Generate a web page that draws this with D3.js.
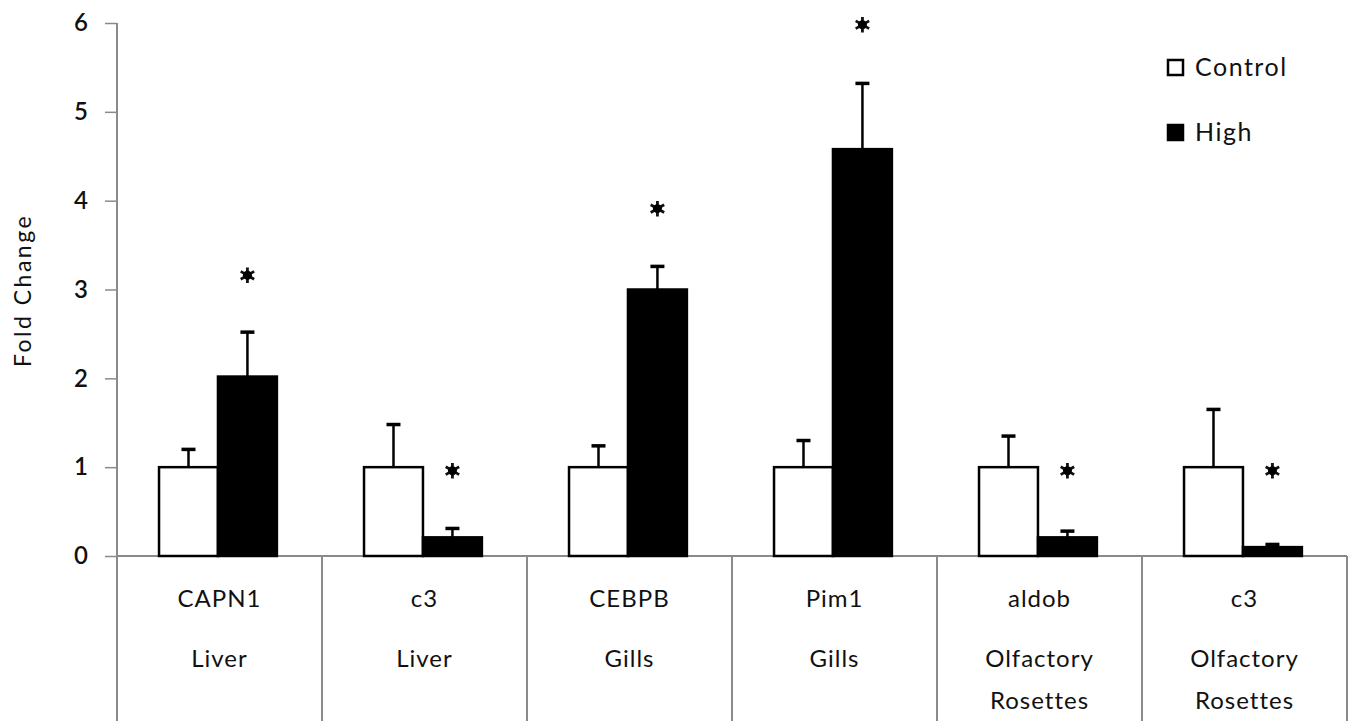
<!DOCTYPE html>
<html>
<head>
<meta charset="utf-8">
<script src="https://cdn.jsdelivr.net/npm/d3@7"></script>
<style>
  body { margin: 0; background: #fff; }
  text { font-family: Lato, "Open Sans", sans-serif; fill: #111; }
</style>
</head>
<body>
<svg id="chart" width="1355" height="721"></svg>
<script>
// Chart data
const genes = ['CAPN1', 'c3', 'CEBPB', 'Pim1', 'aldob', 'c3'];
const tissues = [['Liver'], ['Liver'], ['Gills'], ['Gills'], ['Olfactory', 'Rosettes'], ['Olfactory', 'Rosettes']];
const series = ['Control', 'High'];
const controlMean = [1, 1, 1, 1, 1, 1];
const controlErr = [0.2, 0.48, 0.24, 0.3, 0.35, 0.65];
const highMean = [2.02, 0.21, 3.0, 4.58, 0.21, 0.1];
const highErr = [0.5, 0.1, 0.26, 0.74, 0.07, 0.03];
const starLevel = [3.16, 0.96, 3.91, 5.98, 0.96, 0.96];
const yTicks = [0, 1, 2, 3, 4, 5, 6];

const svg = d3.select('#chart');
const plotLeft = 117, plotRight = 1347, plotTop = 23, plotBase = 556, plotBottom = 721;
const axisColor = '#8a8a8a';

const keys = genes.map((g, i) => i);
const x0 = d3.scaleBand().domain(keys).range([plotLeft, plotRight]);
const bw = x0.bandwidth();
const x1 = d3.scaleBand().domain(series).range([bw * 0.205, bw * 0.78]);
const y = d3.scaleLinear().domain([0, 6]).range([plotBase, plotTop]);

const rows = keys.map(i => ({
    i: i,
    values: [
        { s: 'Control', v: controlMean[i], e: controlErr[i] },
        { s: 'High', v: highMean[i], e: highErr[i] }
    ]
}));

// y axis
const yAxis = d3.axisLeft(y).tickValues(yTicks).tickSize(12).tickPadding(17).tickFormat(d3.format('d'));
const ya = svg.append('g').attr('transform', `translate(${plotLeft},0)`).call(yAxis);
ya.select('.domain').remove();
ya.selectAll('.tick line').attr('stroke', axisColor).attr('stroke-width', 1.5);
ya.selectAll('.tick text')
    .style('font-size', '24px')
    .style('font-weight', 600)
    .attr('fill', '#111');
svg.append('line')
    .attr('x1', plotLeft).attr('x2', plotLeft).attr('y1', plotTop).attr('y2', plotBottom)
    .attr('stroke', axisColor).attr('stroke-width', 2);

// y title
svg.append('text')
    .attr('transform', `translate(31,${(plotTop + plotBase) / 2 + 1}) rotate(-90)`)
    .attr('text-anchor', 'middle')
    .style('font-size', '23px')
    .style('letter-spacing', '2.5px')
    .text('Fold Change');

// x baseline and category separators
svg.append('line')
    .attr('x1', plotLeft).attr('x2', plotRight).attr('y1', plotBase).attr('y2', plotBase)
    .attr('stroke', axisColor).attr('stroke-width', 2);
svg.selectAll('.sep')
    .data(keys.map(i => x0(i) + bw))
    .enter().append('line')
    .attr('class', 'sep')
    .attr('x1', d => d).attr('x2', d => d)
    .attr('y1', plotBase).attr('y2', plotBottom)
    .attr('stroke', axisColor).attr('stroke-width', 2);

// bars
const groups = svg.selectAll('.grp')
    .data(rows)
    .enter().append('g')
    .attr('class', 'grp')
    .attr('transform', d => `translate(${x0(d.i)},0)`);

// error bars (upper only)
groups.selectAll('.err')
    .data(d => d.values)
    .enter().append('line')
    .attr('x1', d => x1(d.s) + x1.bandwidth() / 2)
    .attr('x2', d => x1(d.s) + x1.bandwidth() / 2)
    .attr('y1', d => y(d.v))
    .attr('y2', d => y(d.v + d.e))
    .attr('stroke', '#000').attr('stroke-width', 2.5);
groups.selectAll('.cap')
    .data(d => d.values)
    .enter().append('line')
    .attr('x1', d => x1(d.s) + x1.bandwidth() / 2 - 7)
    .attr('x2', d => x1(d.s) + x1.bandwidth() / 2 + 7)
    .attr('y1', d => y(d.v + d.e))
    .attr('y2', d => y(d.v + d.e))
    .attr('stroke', '#000').attr('stroke-width', 3.5);

groups.selectAll('rect')
    .data(d => d.values)
    .enter().append('rect')
    .attr('x', d => x1(d.s))
    .attr('y', d => y(d.v))
    .attr('width', x1.bandwidth())
    .attr('height', d => y(0) - y(d.v))
    .attr('fill', d => d.s === 'Control' ? '#fff' : '#000')
    .attr('stroke', '#000')
    .attr('stroke-width', 2.5);

// significance stars above the High bars
svg.selectAll('.star')
    .data(keys)
    .enter().append('path')
    .attr('class', 'star')
    .attr('transform', i => `translate(${x0(i) + x1('High') + x1.bandwidth() / 2},${y(starLevel[i])})`)
    .attr('d', d3.symbol(d3.symbolAsterisk, 170))
    .attr('fill', 'none')
    .attr('stroke', '#111')
    .attr('stroke-width', 2.8);
svg.selectAll('.stardot')
    .data(keys)
    .enter().append('circle')
    .attr('cx', i => x0(i) + x1('High') + x1.bandwidth() / 2)
    .attr('cy', i => y(starLevel[i]))
    .attr('r', 4.5)
    .attr('fill', '#000');

// category labels
const lab = svg.selectAll('.lab')
    .data(keys)
    .enter().append('g')
    .attr('transform', i => `translate(${x0(i) + bw / 2},0)`);
lab.append('text')
    .attr('y', 607)
    .attr('text-anchor', 'middle')
    .style('font-size', '24px')
    .style('letter-spacing', '1px')
    .text(i => genes[i]);
lab.selectAll('.tis')
    .data(i => tissues[i])
    .enter().append('text')
    .attr('y', (d, j) => 667 + j * 42)
    .attr('text-anchor', 'middle')
    .style('font-size', '24px')
    .style('letter-spacing', '1px')
    .text(d => d);

// legend
const legend = svg.selectAll('.leg')
    .data(series)
    .enter().append('g')
    .attr('transform', (d, i) => `translate(1168,${60 + i * 65})`);
legend.append('rect')
    .attr('width', 15).attr('height', 15)
    .attr('fill', d => d === 'Control' ? '#fff' : '#000')
    .attr('stroke', '#000').attr('stroke-width', 2.5);
legend.append('text')
    .attr('x', 27).attr('y', 16)
    .style('font-size', '25px')
    .style('letter-spacing', '1.5px')
    .text(d => d);
</script>
</body>
</html>
